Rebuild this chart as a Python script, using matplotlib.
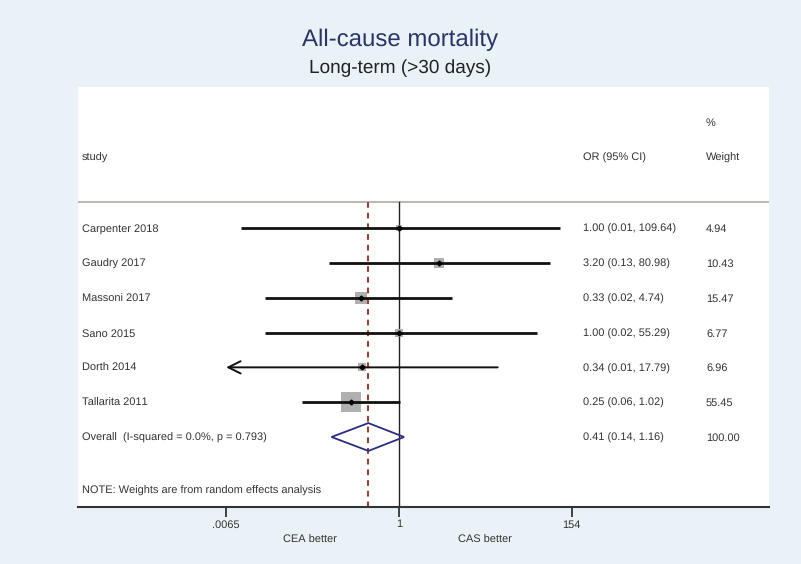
"""
Forest plot: all-cause mortality, long-term (>30 days)
"""
import numpy as np
import matplotlib
matplotlib.use('Agg')
import matplotlib.pyplot as plt
from matplotlib.patches import Polygon

plt.rcParams['font.family'] = ['Liberation Sans', 'DejaVu Sans']
plt.rcParams['text.hinting'] = 'no_hinting'
plt.rcParams['text.hinting_factor'] = 1

# 数据
studies = ['Carpenter 2018', 'Gaudry 2017', 'Massoni 2017', 'Sano 2015',
           'Dorth 2014', 'Tallarita 2011']
odds_ratio = [1.00, 3.20, 0.33, 1.00, 0.34, 0.25]
ci_low = [0.01, 0.13, 0.02, 0.02, 0.0065, 0.06]
ci_high = [109.64, 80.98, 4.74, 55.29, 17.79, 1.02]
weights = [4.94, 10.43, 15.47, 6.77, 6.96, 55.45]

overall_or = 0.41
overall_low = 0.14
overall_high = 1.16
overall_label = 'Overall  (I-squared = 0.0%, p = 0.793)'

tick_values = [0.0065, 1, 154]
tick_labels = ['.0065', '1', '154']

bg = '#e9f2f6'
txt = '#333333'
fs = 8
va = 'center_baseline'

fig = plt.figure(figsize=(8.01, 5.64), dpi=100, facecolor=bg)
ax = fig.add_axes([78 / 801, 1 - 507 / 564, (769 - 78) / 801, (507 - 87) / 564])
ax.set_facecolor('white')
ax.set_xscale('log')
ax.set_xlim(10 ** -4.063, 10 ** 4.684)
ax.set_ylim(9.01, -3.05)

rows = np.arange(1, len(studies) + 1)
x_or = 10 ** ((583 - 399) / 79)
x_w = 10 ** ((706 - 399) / 79)
x_study = 10 ** ((82 - 399) / 79)
axmin = tick_values[0]

# 分隔线和参考线
ax.axhline(0.25, color='#bdb8b4', lw=1.5)
ax.plot([1, 1], [0.25, 9.01], color='#222222', lw=1.0)
ax.plot([overall_or, overall_or], [0.25, 9.01], color='#a03a30', lw=1.4,
        ls=(0, (3, 2.5)))

# 各研究的置信区间和权重方块
for y, o, lo, hi, w in zip(rows, odds_ratio, ci_low, ci_high, weights):
    ax.scatter([o], [y], s=228 * w / 55.45, marker='s', color='#b0b0b0',
               zorder=2, linewidths=0)
    if lo <= axmin:
        ax.annotate('', xy=(axmin, y), xytext=(hi, y),
                    arrowprops=dict(arrowstyle='->', lw=1.4, color='#111111',
                                    mutation_scale=22, shrinkA=0, shrinkB=0),
                    zorder=3)
    else:
        ax.plot([lo, hi], [y, y], color='#111111', lw=2.0, zorder=3,
                solid_capstyle='butt')
    ax.plot([o], [y], marker='D', ms=2.5, color='black', zorder=4)
    ax.text(x_study, y, studies[y - 1], fontsize=fs, color=txt, va=va)
    ax.text(x_or, y, f'{o:.2f} ({lo:.2f}, {hi:.2f})', fontsize=fs, color=txt,
            va=va)
    ax.text(x_w, y, f'{w:.2f}', fontsize=fs, color=txt, va=va)

# 合并效应菱形
yo = len(studies) + 1
diamond = Polygon([[overall_low, yo], [overall_or, yo - 0.4],
                   [overall_high, yo], [overall_or, yo + 0.4]],
                  closed=True, fill=False, edgecolor='#2b2d80', lw=1.3, zorder=5)
ax.add_patch(diamond)
ax.text(x_study, yo, overall_label, fontsize=fs, color=txt, va=va)
ax.text(x_or, yo, f'{overall_or:.2f} ({overall_low:.2f}, {overall_high:.2f})',
        fontsize=fs, color=txt, va=va)
ax.text(x_w, yo, '100.00', fontsize=fs, color=txt, va=va)

# 表头
ax.text(x_study, -1.04, 'study', fontsize=fs, color=txt, va=va)
ax.text(x_or, -1.04, 'OR (95% CI)', fontsize=fs, color=txt, va=va)
ax.text(x_w, -1.04, 'Weight', fontsize=fs, color=txt, va=va)
ax.text(x_w, -2.04, '%', fontsize=fs, color=txt, va=va)
ax.text(x_study, 8.52, 'NOTE: Weights are from random effects analysis',
        fontsize=fs, color=txt, va=va)

# 坐标轴
for s in ['top', 'left', 'right']:
    ax.spines[s].set_visible(False)
ax.spines['bottom'].set_color('#333333')
ax.spines['bottom'].set_linewidth(1.5)
ax.set_yticks([])
ax.set_xticks(tick_values)
ax.set_xticklabels(tick_labels)
ax.minorticks_off()
ax.tick_params(axis='x', length=7, width=1.3, color='#333333', labelsize=fs,
               labelcolor=txt, pad=2)

ax.text(10 ** -1.13, -0.079, 'CEA better', transform=ax.get_xaxis_transform(),
        ha='center', va='center', fontsize=fs, color=txt)
ax.text(10 ** 1.09, -0.079, 'CAS better', transform=ax.get_xaxis_transform(),
        ha='center', va='center', fontsize=fs, color=txt)

fig.text(0.5, 1 - 40 / 564, 'All-cause mortality', ha='center', va='center',
         fontsize=17.5, color='#2a3468')
fig.text(0.5, 1 - 68 / 564, 'Long-term (>30 days)', ha='center', va='center',
         fontsize=14, color='#222222')

plt.savefig('out.png', dpi=100, facecolor=bg)
plt.close()
